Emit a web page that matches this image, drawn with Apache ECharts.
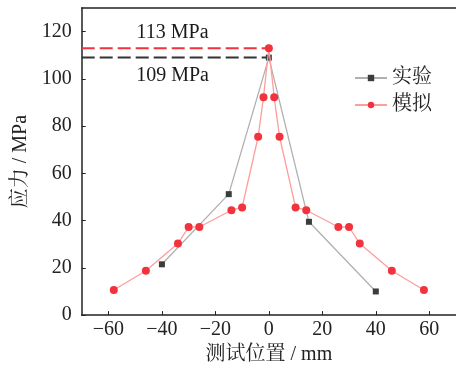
<!DOCTYPE html>
<html>
<head>
<meta charset="utf-8">
<script src="https://cdn.jsdelivr.net/npm/echarts@6/dist/echarts.min.js"></script>
<style>html,body{margin:0;padding:0;background:#fff}#c{width:456px;height:370px}</style>
</head>
<body>
<div id="c"></div>
<script>
const expX = [-40, -15, 0, 15, 40];
const expY = [21.5, 51.2, 109, 39.5, 10];
const simX = [-58, -46, -34, -30, -26, -14, -10, -4, -2, 0, 2, 4, 10, 14, 26, 30, 34, 46, 58];
const simY = [10.6, 18.8, 30.3, 37.3, 37.3, 44.4, 45.6, 75.5, 92.2, 113, 92.2, 75.5, 45.6, 44.4, 37.3, 37.3, 30.3, 18.8, 10.6];
const xTicks = [-60, -40, -20, 0, 20, 40, 60];
const yTicks = [0, 20, 40, 60, 80, 100, 120];
const seriesNames = ['实验', '模拟'];
const refValues = [113, 109];
const refLabels = ['113 MPa', '109 MPa'];
const refLabelPos = [[-36, 119.6], [-36, 101.2]];
const xRange = [-70, 70];
const yRange = [0, 130];

const serif = "'Liberation Serif', 'Times New Roman', 'Noto Serif CJK SC', 'Noto Sans CJK SC', serif";
const chart = echarts.init(document.getElementById('c'), null, {renderer: 'canvas'});
const zip = (a, b) => a.map((v, i) => [v, b[i]]);
const labelStyle = {fontFamily: serif, fontSize: 20, color: '#1a1a1a', opacity: 1};

chart.setOption({
  animation: false,
  backgroundColor: '#fff',
  grid: {left: 81.7, right: -3.7, top: 8, bottom: 49.5, containLabel: false},
  legend: {
    left: 349, top: 63, orient: 'vertical', itemGap: 7,
    itemWidth: 32, itemHeight: 8,
    textStyle: {fontFamily: serif, fontSize: 20, color: '#222'},
    data: seriesNames
  },
  xAxis: [{
    type: 'value', min: xRange[0], max: xRange[1], interval: 20,
    name: '测试位置 / mm', nameLocation: 'middle', nameGap: 27,
    nameTextStyle: {fontFamily: serif, fontSize: 20, color: '#222'},
    axisLine: {show: true, onZero: false, lineStyle: {color: '#222', width: 1.5}},
    axisTick: {show: true, inside: true, length: 4, lineStyle: {color: '#222'},
      customValues: xTicks},
    axisLabel: {fontFamily: serif, fontSize: 20, color: '#222', margin: 5,
      customValues: xTicks, formatter: v => (v < 0 ? '\u2212' + (-v) : '' + v)},
    splitLine: {show: false}
  }, {
    type: 'value', position: 'top', min: xRange[0], max: xRange[1],
    axisLine: {show: true, onZero: false, lineStyle: {color: '#222', width: 1.5}},
    axisTick: {show: false}, axisLabel: {show: false}, splitLine: {show: false}
  }],
  yAxis: {
    type: 'value', min: yRange[0], max: yRange[1], interval: 20,
    name: '应力 / MPa', nameLocation: 'middle', nameGap: 48,
    nameTextStyle: {fontFamily: serif, fontSize: 20, color: '#222'},
    axisLine: {show: true, onZero: false, lineStyle: {color: '#222', width: 1.5}},
    axisTick: {show: true, inside: true, length: 4, lineStyle: {color: '#222'},
      customValues: yTicks},
    axisLabel: {fontFamily: serif, fontSize: 20, color: '#222', margin: 10,
      customValues: yTicks},
    splitLine: {show: false}
  },
  series: [
    {
      type: 'line', silent: true, symbol: 'none',
      data: [[xRange[0], refValues[0]], [0, refValues[0]]],
      lineStyle: {color: '#f2333d', width: 2, type: [13, 5]}, z: 1
    },
    {
      type: 'line', silent: true, symbol: 'none',
      data: [[xRange[0], refValues[1]], [0, refValues[1]]],
      lineStyle: {color: '#333', width: 2, type: [13, 5]}, z: 1
    },
    {
      type: 'scatter', silent: true, symbolSize: 0,
      itemStyle: {opacity: 1},
      data: refLabelPos.map((p, i) => ({value: p,
        label: Object.assign({show: true, position: 'inside', formatter: refLabels[i]}, labelStyle)})),
      label: Object.assign({position: 'inside'}, labelStyle)
    },
    {
      name: seriesNames[0], type: 'line', data: zip(expX, expY),
      symbol: 'rect', symbolSize: 6,
      itemStyle: {color: '#3c3c3c'},
      lineStyle: {color: '#b0b0b0', width: 1.3}, z: 3
    },
    {
      name: seriesNames[1], type: 'line', data: zip(simX, simY),
      symbol: 'circle', symbolSize: 8,
      itemStyle: {color: '#f2333d'},
      lineStyle: {color: '#ff9c9c', width: 1.3}, z: 4
    }
  ]
});
</script>
</body>
</html>
